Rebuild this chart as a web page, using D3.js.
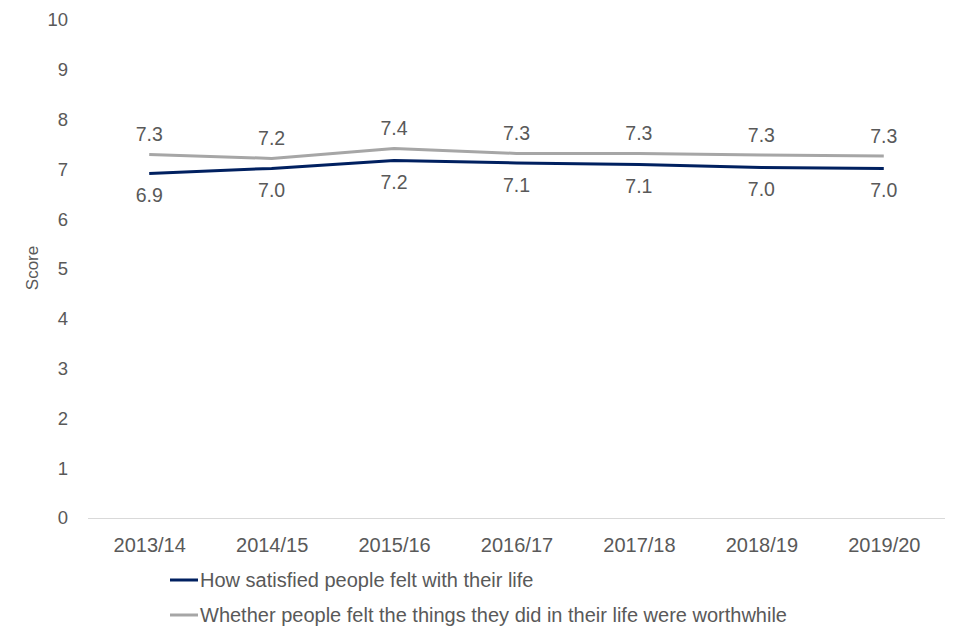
<!DOCTYPE html>
<html>
<head>
<meta charset="utf-8">
<script src="https://cdn.jsdelivr.net/npm/d3@7"></script>
<style>
  body { margin: 0; background: #fff; }
  text { font-family: 'Liberation Sans', Arial, sans-serif; fill: #595959; }
</style>
</head>
<body>
<svg id="chart" width="960" height="640"></svg>
<script>
const years = ['2013/14', '2014/15', '2015/16', '2016/17', '2017/18', '2018/19', '2019/20'];
const satisfied = [6.92, 7.02, 7.18, 7.13, 7.10, 7.04, 7.02];
const worthwhile = [7.30, 7.22, 7.42, 7.32, 7.32, 7.29, 7.27];
const yTicks = [0, 1, 2, 3, 4, 5, 6, 7, 8, 9, 10];
const seriesNames = [
  'How satisfied people felt with their life',
  'Whether people felt the things they did in their life were worthwhile'
];

const plot = {left: 88, right: 945, top: 20, bottom: 518};
const colours = ['#002060', '#A6A6A6'];

const svg = d3.select('#chart');

const x = d3.scalePoint()
  .domain(years)
  .range([plot.left, plot.right])
  .padding(0.5);

const y = d3.scaleLinear()
  .domain([0, 10])
  .range([plot.bottom, plot.top]);

// y tick labels, no axis line
const yAxis = d3.axisLeft(y).tickValues(yTicks).tickSize(0).tickPadding(0);
const yg = svg.append('g')
  .attr('transform', 'translate(68,0)')
  .call(yAxis);
yg.select('.domain').remove();
yg.selectAll('text')
  .attr('font-size', 18.5)
  .attr('font-family', null)
  .attr('fill', '#595959');

// x axis: only a light baseline and the labels
const xAxis = d3.axisBottom(x).tickSize(0).tickPadding(0);
const xg = svg.append('g')
  .attr('transform', 'translate(0,' + plot.bottom + ')')
  .call(xAxis);
xg.select('.domain')
  .attr('d', 'M' + plot.left + ',0.5H' + plot.right)
  .attr('stroke', '#D9D9D9')
  .attr('stroke-width', 1);
xg.selectAll('text')
  .attr('font-size', 20)
  .attr('font-family', null)
  .attr('fill', '#595959')
  .attr('dy', null)
  .attr('y', 34);

svg.append('text')
  .attr('transform', 'translate(38,268) rotate(-90)')
  .attr('text-anchor', 'middle')
  .attr('font-size', 17)
  .text('Score');

const line = d3.line()
  .x((d, i) => x(years[i]))
  .y(d => y(d));

const series = [satisfied, worthwhile];

series.forEach(function (vals, s) {
  svg.append('path')
    .datum(vals)
    .attr('fill', 'none')
    .attr('stroke', colours[s])
    .attr('stroke-width', 3)
    .attr('stroke-linejoin', 'round')
    .attr('d', line);
});

// data labels: satisfied below, worthwhile above
series.forEach(function (vals, s) {
  svg.append('g').selectAll('text')
    .data(vals)
    .join('text')
    .attr('x', (d, i) => x(years[i]))
    .attr('y', d => y(d) + (s === 0 ? 22 : -20))
    .attr('dominant-baseline', 'central')
    .attr('text-anchor', 'middle')
    .attr('font-size', 19.5)
    .text(d => d.toFixed(1));
});

// legend
const legend = svg.append('g');
seriesNames.forEach(function (name, s) {
  const ly = 580 + s * 35;
  legend.append('line')
    .attr('x1', 170).attr('x2', 198)
    .attr('y1', ly).attr('y2', ly)
    .attr('stroke', colours[s])
    .attr('stroke-width', 3);
  legend.append('text')
    .attr('x', 200)
    .attr('y', ly)
    .attr('dominant-baseline', 'central')
    .attr('font-size', 20)
    .text(name);
});
</script>
</body>
</html>
